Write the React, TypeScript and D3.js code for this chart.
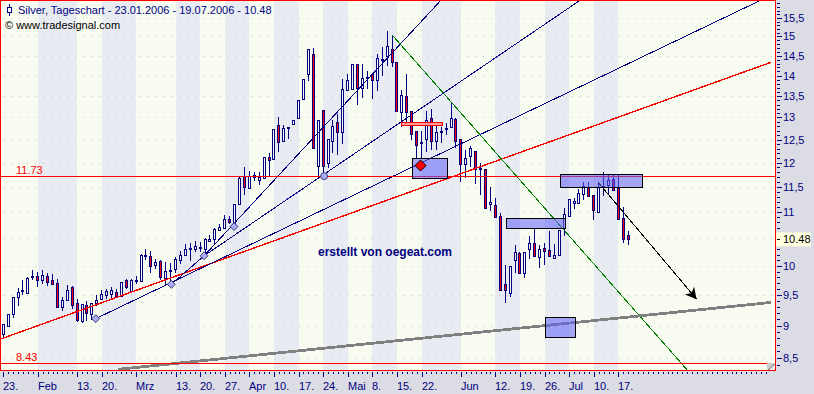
import React from "react";
import * as d3 from "d3";

// [open, high, low, close] daily candles, 23.01.2006 - 19.07.2006
const candles: number[][] = [
[8.87,9.03,8.79,9.03],[9.00,9.19,8.99,9.19],[9.18,9.47,9.12,9.47],[9.47,9.62,9.32,9.55],[9.57,9.76,9.50,9.59],
[9.53,9.81,9.52,9.79],[9.81,9.92,9.75,9.83],[9.82,9.89,9.63,9.75],[9.75,9.92,9.68,9.84],[9.82,9.87,9.65,9.72],
[9.76,9.85,9.68,9.68],[9.70,9.78,9.30,9.30],[9.30,9.47,9.23,9.42],[9.42,9.67,9.42,9.58],[9.63,9.65,9.26,9.34],
[9.37,9.44,9.05,9.09],[9.07,9.35,9.04,9.35],[9.33,9.40,9.07,9.20],[9.18,9.37,9.09,9.37],[9.37,9.50,9.31,9.42],
[9.44,9.59,9.44,9.52],[9.50,9.60,9.43,9.56],[9.51,9.64,9.43,9.59],[9.55,9.60,9.48,9.49],[9.49,9.72,9.46,9.72],
[9.75,9.78,9.60,9.64],[9.57,9.78,9.57,9.76],[9.74,9.83,9.69,9.76],[9.73,10.22,9.73,10.20],[10.17,10.31,10.10,10.20],
[10.18,10.27,9.88,10.00],[10.02,10.12,9.94,10.07],[10.09,10.10,9.76,9.80],[9.79,10.07,9.66,9.91],[9.91,10.05,9.70,9.93],
[9.94,10.15,9.88,10.13],[10.10,10.27,10.04,10.20],[10.19,10.39,10.19,10.31],[10.31,10.42,10.09,10.33],[10.30,10.45,10.24,10.35],
[10.32,10.43,10.24,10.34],[10.30,10.50,10.14,10.49],[10.45,10.57,10.44,10.49],[10.49,10.69,10.38,10.67],[10.65,10.76,10.65,10.72],
[10.70,10.94,10.70,10.87],[10.87,10.92,10.77,10.80],[10.72,11.16,10.66,11.15],[11.16,11.70,11.16,11.69],[11.72,11.91,11.34,11.50],
[11.47,11.82,11.47,11.72],[11.71,11.80,11.61,11.74],[11.63,11.80,11.54,11.70],[11.68,12.13,11.68,12.13],[12.13,12.21,11.72,12.05],
[12.08,12.74,12.08,12.74],[12.83,13.02,12.22,12.44],[12.46,12.83,12.46,12.77],[12.76,12.79,12.51,12.78],[12.85,12.93,12.85,12.93],
[12.98,13.41,12.98,13.41],[13.44,13.92,13.44,13.92],[14.03,14.66,13.86,14.66],[14.55,14.69,12.32,12.32],[11.93,12.93,11.65,12.93],
[13.18,13.18,11.73,11.93],[11.99,12.52,11.89,12.52],[12.48,12.95,12.21,12.80],[12.89,13.08,12.17,12.66],[12.66,13.92,12.41,13.68],
[13.64,14.03,13.64,13.90],[13.68,14.28,13.68,14.28],[14.28,14.28,13.28,13.70],[13.70,14.29,13.46,13.95],[13.93,14.11,13.68,13.96],
[14.03,14.05,13.42,13.89],[13.89,14.54,13.62,14.45],[14.39,14.72,14.00,14.42],[14.50,15.14,14.24,14.74],[14.66,15.05,14.20,14.33],
[14.35,14.35,13.15,13.15],[13.13,13.64,12.79,13.53],[13.51,14.03,12.89,13.13],[13.14,13.15,12.50,12.63],[12.69,12.70,12.07,12.38],
[12.43,12.69,12.07,12.45],[12.52,13.15,12.23,12.93],[12.99,13.19,12.28,12.46],[12.46,12.89,12.28,12.67],[12.67,12.78,12.43,12.70],
[12.74,12.87,12.61,12.77],[12.78,13.34,12.78,12.99],[12.97,12.98,12.31,12.48],[12.51,12.52,11.59,11.97],[11.97,12.28,11.68,12.10],
[12.15,12.37,11.90,12.31],[12.25,12.26,11.56,11.86],[11.86,12.00,11.34,11.88],[11.87,11.87,11.07,11.07],[11.16,11.49,11.02,11.19],
[11.13,11.27,10.90,10.90],[10.93,10.98,9.56,9.58],[9.69,10.02,9.37,9.58],[9.54,10.00,9.46,10.00],[10.11,10.37,9.88,10.24],
[10.23,10.24,9.88,9.88],[9.88,10.24,9.79,10.24],[10.31,10.54,10.12,10.42],[10.42,10.70,10.17,10.17],[10.15,10.37,9.97,10.31],
[10.33,10.42,10.02,10.27],[10.28,10.63,10.17,10.17],[10.14,10.40,10.13,10.20],[10.20,10.66,10.20,10.66],[10.69,11.08,10.55,10.96],
[10.93,11.26,10.93,11.26],[11.18,11.27,11.05,11.21],[11.18,11.45,11.18,11.37],[11.35,11.60,11.24,11.52],[11.49,11.59,11.31,11.31],
[11.34,11.34,10.85,11.03],[11.00,11.59,11.00,11.49],[11.50,11.81,11.31,11.52],[11.53,11.75,11.34,11.63],[11.65,11.75,11.43,11.43],
[11.48,11.75,10.87,10.87],[10.88,11.10,10.41,10.48],[10.56,10.64,10.38,10.48],
];

// [day index, label] for the date axis
const dateTicks: [number, string][] = [
[0,"23."],[7,"Feb"],[15,"13."],[20,"20."],[27,"Mrz"],[35,"13."],[40,"20."],[45,"27."],[50,"Apr"],[55,"10."],[60,"17."],
[65,"24."],[70,"Mai"],[75,"8."],[80,"15."],[85,"22."],[93,"Jun"],[100,"12."],[105,"19."],[110,"26."],[115,"Jul"],[120,"10."],[125,"17."],
];
const priceTicks = [8.5,9,9.5,10,10.5,11,11.5,12,12.5,13,13.5,14,14.5,15,15.5];
const priceLabels = ["8,5","9","9,5","10","","11","11,5","12","12,5","13","13,5","14","14,5","15","15,5"];
const lastPrice = 10.48;
const levels = [11.73, 8.43];

// trend lines as [[day, price],[day, price]]
const redTrend = [[-0.47,8.79],[156,14.33]];
const blueLines = [
  [[18.78,9.11],[153.6,15.97]],
  [[40.8,10.18],[117,15.97]],
  [[40.8,10.18],[88.8,15.97]],
  [[34.15,9.68],[40.8,10.18]],
];
const greenLine = [[78.95,15.05],[139,8.32]];
const blackArrow = [[120.9,11.59],[140.9,9.43]];
const greyLine = [[23.3,8.33],[156,9.375]];
const diamonds = [[18.78,9.11],[34.15,9.68],[40.8,10.18],[46.9,10.72]];
const circlePoint = [65.2,11.72];
const redDiamond = [84.8,11.94];
// boxes as [day0, day1, priceTop, priceBottom]
const blueBoxes = [
  [83.2,90.3,12.08,11.68],
  [102.2,114.2,10.88,10.69],
  [113.2,130,11.76,11.49],
  [110.1,116.2,9.13,8.81],
];
const pinkBox = [81,89.3,12.89,12.81];
// shaded weeks as [day0, day1]
const shaded: [number, number][] = [[7,15],[20,27],[35,40],[45,50],[55,60],[65,70],[75,80],[85,93],[100,105],[110,115],[120,125]];

const W = 814, H = 394;
const L = 1, R = 775, T = 1, B = 370;
const x = d3.scaleLinear().domain([0, 127]).range([3.3, 628.2]);
const y = d3.scaleLog().domain([8.32, 15.97]).range([B, T]);
const navy = "#000080";
const font = "'Liberation Sans', Arial, sans-serif";
const line = d3.line<number[]>().x(d => x(d[0])).y(d => y(d[1]));
const minorPrices = d3.range(84, 160).map(v => v / 10);

export default function App() {
  const arrowEnd = blackArrow[1], arrowStart = blackArrow[0];
  const ax = x(arrowEnd[0]), ay = y(arrowEnd[1]);
  const ang = Math.atan2(ay - y(arrowStart[1]), ax - x(arrowStart[0])) * 180 / Math.PI;
  const lastY = y(lastPrice);
  return (
    <svg width={W} height={H} viewBox={`0 0 ${W} ${H}`} style={{ position: "absolute", left: 0, top: 0, display: "block" }} fontFamily={font}>
      <rect x={0} y={0} width={W} height={H} fill="#DCDCE4" />
      <rect x={L} y={T} width={R - L} height={B - T} fill="#F8FCF0" />
      {shaded.map(([a, b], i) => (
        <rect key={i} x={Math.round(x(a))} y={T} width={Math.round(x(b)) - Math.round(x(a))} height={B - T} fill="#E8ECF2" />
      ))}
      {priceTicks.map(p => (
        <line key={p} x1={L + 2} x2={R} y1={Math.round(y(p)) + 0.5} y2={Math.round(y(p)) + 0.5} stroke="#C4C8C0" strokeDasharray="1 7" />
      ))}

      <g shapeRendering="crispEdges">
        {candles.map((c, i) => {
          const cx = Math.floor(x(i));
          const up = c[3] >= c[0];
          const top = Math.round(y(Math.max(c[0], c[3])));
          const bot = Math.round(y(Math.min(c[0], c[3])));
          return (
            <g key={i}>
              <rect x={cx} y={y(c[1])} width={1} height={y(c[2]) - y(c[1])} fill={navy} />
              <rect x={cx - 0.5} y={top + 0.5} width={2} height={Math.max(bot - top, 1)} fill={up ? "#F8FCF0" : "#FF0000"} stroke={navy} />
            </g>
          );
        })}
      </g>

      <g fill="none" shapeRendering="crispEdges">
        <path d={line(redTrend as any)!} stroke="#FF0000" strokeWidth={1.4} />
        {blueLines.map((l, i) => <path key={i} d={line(l as any)!} stroke={navy} strokeWidth={1} />)}
        <path d={line(greenLine as any)!} stroke="#008000" strokeWidth={1} />
        <path d={line(greyLine as any)!} stroke="#808080" strokeWidth={2.8} />
        <path d={line(blackArrow as any)!} stroke="#000" strokeWidth={1} />
      </g>
      <path d="M0,0 L-11,-6 L-8,0 L-11,6 Z" transform={`translate(${ax},${ay}) rotate(${ang})`} fill="#000" />

      {levels.map(v => (
        <line key={v} x1={L} x2={R} y1={Math.round(y(v)) + 0.5} y2={Math.round(y(v)) + 0.5} stroke="#FF0000" strokeWidth={1} shapeRendering="crispEdges" />
      ))}
      <text x={16} y={y(levels[0]) - 2} fontSize={11} fill="#FF0000">11.73</text>
      <text x={16} y={y(levels[1]) - 2} fontSize={11} fill="#FF0000">8.43</text>

      {blueBoxes.map((b, i) => (
        <g key={i} shapeRendering="crispEdges">
          <rect x={x(b[0])} y={y(b[2])} width={x(b[1]) - x(b[0])} height={y(b[3]) - y(b[2])} fill="#5E5EF9" fillOpacity={0.54} />
          <rect x={x(b[0])} y={y(b[2])} width={x(b[1]) - x(b[0])} height={y(b[3]) - y(b[2])} fill="none" stroke="#000" strokeWidth={1} />
        </g>
      ))}
      <rect x={x(pinkBox[0])} y={y(pinkBox[2])} width={x(pinkBox[1]) - x(pinkBox[0])} height={y(pinkBox[3]) - y(pinkBox[2])}
        fill="#FF9C9C" stroke="#FF0000" strokeWidth={1} shapeRendering="crispEdges" />

      {diamonds.map((d, i) => (
        <path key={i} d="M0,-4 L4,0 L0,4 L-4,0 Z" transform={`translate(${x(d[0])},${y(d[1])})`} fill="#A8ACF4" stroke="#202060" strokeWidth={0.8} />
      ))}
      <circle cx={x(circlePoint[0])} cy={y(circlePoint[1])} r={3.5} fill="#A8ACF4" stroke="#202060" strokeWidth={0.8} />
      <path d="M0,-5.5 L5.5,0 L0,5.5 L-5.5,0 Z" transform={`translate(${x(redDiamond[0])},${y(redDiamond[1])})`} fill="#FF0000" stroke="#000" strokeWidth={1} />

      <text x={318} y={256} fontSize={12} fontWeight="bold" fill={navy}>erstellt von oegeat.com</text>

      {/* header */}
      <rect x={7.5} y={7.5} width={4} height={5} fill="none" stroke={navy} shapeRendering="crispEdges" />
      <rect x={9} y={4} width={1} height={3} fill={navy} />
      <rect x={9} y={13} width={1} height={3} fill={navy} />
      <text x={18} y={14} fontSize={11} fill={navy}>Silver, Tageschart - 23.01.2006 - 19.07.2006 - 10.48</text>
      <text x={5} y={29} fontSize={11} fill="#000">© www.tradesignal.com</text>

      {/* frame */}
      <g stroke="#FF0000" fill="none" shapeRendering="crispEdges">
        <line x1={0} x2={R + 1} y1={0.5} y2={0.5} />
        <line x1={R + 0.5} x2={R + 0.5} y1={0} y2={B + 1} />
        <line x1={0.5} x2={0.5} y1={0} y2={B + 1} />
        <line x1={0} x2={R} y1={B + 0.5} y2={B + 0.5} />
      </g>
      {/* corner resize tile */}
      <rect x={R - 8} y={B - 7} width={8} height={7} fill="#F0F0F0" />
      <path d={`M${R - 8},${B} L${R - 8},${B - 7} L${R},${B - 7} Z`} fill="#C8C8C8" />
      <path d={`M${R - 7},${B} L${R},${B - 6}`} stroke="#606060" fill="none" />

      {/* price axis */}
      <g shapeRendering="crispEdges" stroke={navy}>
        {minorPrices.filter(p => y(p) > 3).map(p => (
          <line key={p} x1={R + 2} x2={R + 5} y1={Math.round(y(p)) + 0.5} y2={Math.round(y(p)) + 0.5} />
        ))}
        {priceTicks.map(p => (
          <line key={p} x1={R + 2} x2={R + 7} y1={Math.round(y(p)) + 0.5} y2={Math.round(y(p)) + 0.5} />
        ))}
      </g>
      {priceTicks.map((p, i) => priceLabels[i] ? (
        <text key={p} x={783} y={y(p) + 4} fontSize={11} fill={navy}>{priceLabels[i]}</text>
      ) : null)}
      <rect x={776} y={lastY - 7} width={35} height={14} fill="#FFFFE0" />
      <line x1={777} x2={780} y1={Math.round(lastY) + 0.5} y2={Math.round(lastY) + 0.5} stroke="#000" shapeRendering="crispEdges" />
      <text x={783} y={lastY + 4} fontSize={11} fill="#000">10.48</text>

      {/* date axis */}
      <g shapeRendering="crispEdges" stroke={navy}>
        {d3.range(0, 156).map(i => (
          <line key={i} x1={Math.round(x(i)) + 0.5} x2={Math.round(x(i)) + 0.5} y1={B + 2} y2={B + 4} />
        ))}
        {dateTicks.map(([i]) => (
          <line key={i} x1={Math.round(x(i)) + 0.5} x2={Math.round(x(i)) + 0.5} y1={B + 2} y2={B + 7} />
        ))}
      </g>
      {dateTicks.map(([i, s]) => (
        <text key={i} x={Math.round(x(i))} y={390} fontSize={11} fill={navy}>{s}</text>
      ))}
    </svg>
  );
}
